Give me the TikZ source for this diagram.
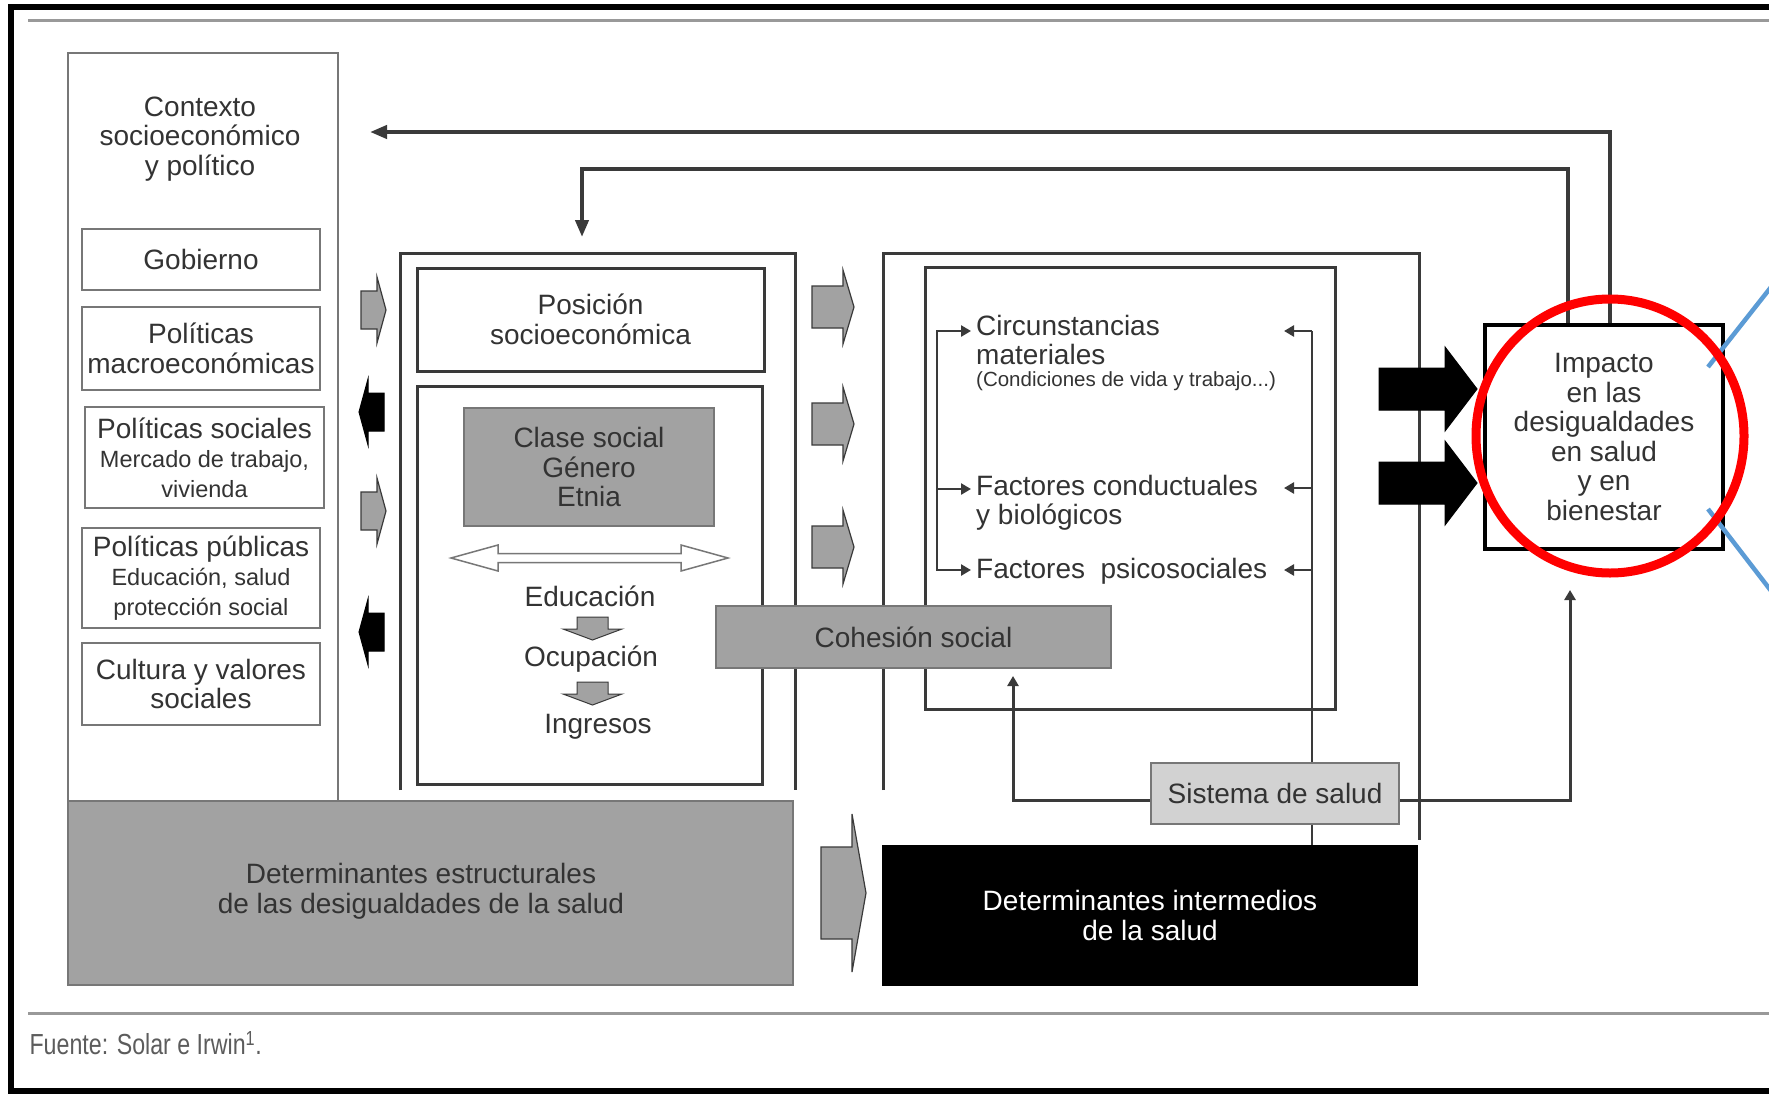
\documentclass[tikz,border=0pt]{standalone}
\usepackage{fontspec}
\setmainfont{Liberation Sans}
\newfontfamily\narrowf[FakeStretch=0.8]{Liberation Sans}
\usetikzlibrary{arrows.meta,calc}
\definecolor{txtc}{HTML}{333333}
\definecolor{linec}{HTML}{3A3A3A}
\definecolor{lgline}{HTML}{777777}
\definecolor{gfill}{HTML}{A2A2A2}
\definecolor{lfill}{HTML}{D2D2D2}
\definecolor{bluel}{HTML}{5B9BD5}
\newcommand\fmain{\fontsize{28}{29.5}\selectfont}
\newcommand\fsmall{\fontsize{23.5}{26}\selectfont}
\newcommand\ftiny{\fontsize{20.5}{23}\selectfont}
\newcommand\fsrc{\narrowf\fontsize{29}{31}\selectfont}
\newcommand\rarrow[7]{%
  \begin{scope}[shift={(#1,#2)}]
    \filldraw[#7] (0,-#5) -- (#3,-#5) -- (#3,-#6) -- ({#3+#4},0) -- (#3,#6) -- (#3,#5) -- (0,#5) -- cycle;
  \end{scope}}
\newcommand\larrow[7]{%
  \begin{scope}[shift={(#1,#2)},xscale=-1]
    \filldraw[#7] (0,-#5) -- (#3,-#5) -- (#3,-#6) -- ({#3+#4},0) -- (#3,#6) -- (#3,#5) -- (0,#5) -- cycle;
  \end{scope}}
\tikzset{
  txt/.style={text=txtc, font=\fmain, align=center, inner sep=0pt},
  lbox/.style={draw=lgline, line width=2pt, inner sep=0pt, text=txtc, font=\fmain, align=center},
  dbox/.style={draw=linec, line width=3pt, inner sep=0pt, text=txtc, font=\fmain, align=center},
  gbox/.style={dbox, fill=gfill, draw=lgline, line width=2pt},
  dline/.style={draw=linec, line width=3pt},
  fbline/.style={draw=linec, line width=4pt, -{Triangle[length=17pt,width=13pt]}},
  sarr/.style={draw=linec, line width=2.5pt, -{Triangle[length=10pt,width=11pt]}},
  grayarr/.style={fill=gfill, draw=linec, line width=1.2pt},
  blackarr/.style={fill=black, draw=black, line width=1pt},
}
\begin{document}
\begin{tikzpicture}[x=1pt,y=-1pt]
\useasboundingbox (0,0) rectangle (1769,1095);
\fill[white] (0,0) rectangle (1769,1095);
% outer frame and rules
\draw[line width=6pt] (11,7) rectangle (1800,1091);
\draw[gray!80, line width=3pt] (28,20) -- (1769,20);
\draw[gray!80, line width=3pt] (28,1013) -- (1769,1013);
\node[anchor=west, font=\fsrc, text=txtc!80] (src) at (26,1043) {Fuente: Solar e Irwin\textsuperscript{1}.};

% left column
\node[lbox, minimum width=270, minimum height=748] (ctx) at (203,427) {};
\node[txt] (ctxt) at (200,139) {Contexto\\socioeconómico\\y político};
\node[lbox, minimum width=238, minimum height=61] (gob) at (201,259.5) {Gobierno};
\node[lbox, minimum width=238, minimum height=83] (mac) at (201,348.5) {Políticas\\macroeconómicas};
\node[lbox, minimum width=239, minimum height=101] (soc) at (204.5,457.5) {Políticas sociales\\{\fsmall Mercado de trabajo,}\\{\fsmall vivienda}};
\node[lbox, minimum width=238, minimum height=100] (pub) at (201,578) {Políticas públicas\\{\fsmall Educación, salud}\\{\fsmall protección social}};
\node[lbox, minimum width=238, minimum height=82] (cul) at (201,684) {Cultura y valores\\sociales};

% small arrows between left column and middle
\rarrow{361}{310}{16}{9}{19}{33}{grayarr}
\larrow{384}{412}{16}{9}{19}{33}{blackarr}
\rarrow{361}{511}{16}{9}{19}{33}{grayarr}
\larrow{384}{632}{16}{9}{19}{33}{blackarr}

% middle block
\draw[dline] (400,790) -- (400,253) -- (795,253) -- (795,790);
\node[dbox, minimum width=347, minimum height=103] (pos) at (590.5,319.5) {Posición\\socioeconómica};
\node[dbox, minimum width=345, minimum height=398] (strat) at (589.5,585) {};
\node[gbox, minimum width=250, minimum height=118] (clase) at (589,467) {Clase social\\Género\\Etnia};
\filldraw[fill=white, draw=lgline, line width=1.5pt]
  (451,558) -- (498,545) -- (498,553.5) -- (681,553.5) -- (681,545) -- (728,558)
  -- (681,571) -- (681,562.5) -- (498,562.5) -- (498,571) -- cycle;
\node[txt] (edu) at (590,596) {Educación};
\node[txt] (ocu) at (591,659) {Ocupación};
\node[txt] (ing) at (598,727) {Ingresos};
\filldraw[grayarr, line width=1pt] (577,617) -- (608,617) -- (608,629) -- (622,629) -- (592.5,640) -- (563,629) -- (577,629) -- cycle;
\filldraw[grayarr, line width=1pt] (577,682) -- (608,682) -- (608,694) -- (622,694) -- (592.5,705) -- (563,694) -- (577,694) -- cycle;

% arrows middle -> right
\rarrow{812}{307}{31}{11}{21}{37}{grayarr}
\rarrow{812}{424}{31}{11}{21}{37}{grayarr}
\rarrow{812}{547}{31}{11}{21}{37}{grayarr}

% right block
\draw[dline] (883,790) -- (883,253) -- (1419,253) -- (1419,840);
\node[dbox, minimum width=410, minimum height=442] (inter) at (1130,488) {};
% right feedback vertical
\draw[draw=linec, line width=2pt] (1312,331) -- (1312,846);
\draw[sarr] (1312,331) -- (1284,331);
\draw[sarr] (1312,488) -- (1284,488);
\draw[sarr] (1312,570) -- (1284,570);
% left bracket
\draw[draw=linec, line width=2.5pt] (937,331) -- (937,570);
\draw[sarr] (936,331) -- (971,331);
\draw[sarr] (936,489) -- (971,489);
\draw[sarr] (936,570) -- (971,570);
\node[txt, anchor=west, align=left] (circ) at (976,340) {Circunstancias\\materiales};
\node[txt, anchor=west, font=\ftiny] (cond) at (976,381) {(Condiciones de vida y trabajo...)};
\node[txt, anchor=west, align=left] (cond2) at (976,503) {Factores conductuales\\y biológicos};
\node[txt, anchor=west] (psic) at (976,571) {Factores\ \ psicosociales};

% cohesion social
\node[gbox, minimum width=395, minimum height=62] (coh) at (913.5,637) {Cohesión social};

% bottom structural boxes
\node[gbox, minimum width=725, minimum height=184] (estr) at (430.5,893) {};
\node[txt] (estrt) at (421,891) {Determinantes estructurales\\de las desigualdades de la salud};
\rarrow{821}{893}{31}{14}{46}{79}{grayarr}
\node[draw=black, fill=black, line width=2pt, minimum width=534, minimum height=139, inner sep=0pt,
      text=white, font=\fmain, align=center] (interm) at (1150,915.5) {Determinantes intermedios\\de la salud};

% sistema de salud
\node[gbox, fill=lfill, minimum width=248, minimum height=61] (sis) at (1275,793.5) {Sistema de salud};
\coordinate (cohtip) at (1013,676);
\coordinate (imptip) at (1570,590);
\draw[sarr, line width=3pt] ([yshift=-7pt]sis.west) -| (cohtip);
\draw[sarr, line width=3pt] ([yshift=-7pt]sis.east) -| (imptip);

% impacto
\node[draw=black, line width=4.5pt, minimum width=238, minimum height=224, inner sep=0pt,
      text=txtc, font=\fmain, align=center] (imp) at (1604,437) {Impacto\\en las\\desigualdades\\en salud\\y en\\bienestar};
\rarrow{1379}{389}{66}{32}{21}{42}{blackarr}
\rarrow{1379}{483}{66}{32}{21}{42}{blackarr}

% feedback lines
\coordinate (fb1) at (370,132);
\coordinate (fb2c) at (582,169);
\coordinate (fb2) at (582,237);
\draw[fbline] ([xshift=6pt]imp.north) |- (fb1);
\draw[fbline] ([xshift=-36pt]imp.north) |- (fb2c) -- (fb2);

% annotation
\draw[bluel, line width=4.5pt] (1708,367) -- (1775,282);
\draw[bluel, line width=4.5pt] (1708,509) -- (1775,596);
\draw[red, line width=9pt] (1610,436) ellipse [x radius=134, y radius=137];
\end{tikzpicture}
\end{document}
